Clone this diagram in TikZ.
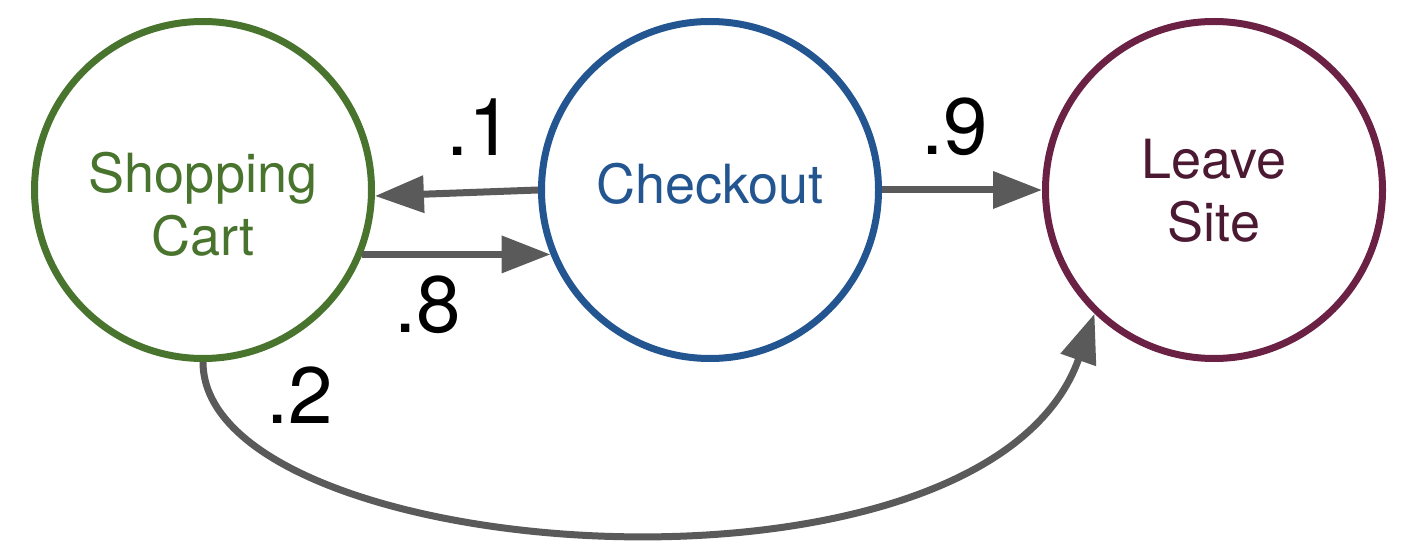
\documentclass[tikz,border=0pt]{standalone}
\usepackage{fontspec}
\setmainfont{TeX Gyre Heros}
\usetikzlibrary{arrows.meta}
\definecolor{cgreen}{HTML}{49742E}
\definecolor{cblue}{HTML}{235691}
\definecolor{cmaroon}{HTML}{6A2144}
\definecolor{cmtext}{HTML}{4B1932}
\definecolor{cgray}{HTML}{5A5A5A}
\begin{document}
\begin{tikzpicture}[x=0.5pt,y=-0.5pt,
  state/.style={circle,draw,line width=3.5pt,minimum size=168.5pt,inner sep=0pt,fill=white},
  stxt/.style={font=\fontsize{27}{31.5}\selectfont,align=center,anchor=north,inner sep=0pt},
  prob/.style={font=\fontsize{40}{48}\selectfont,inner sep=0pt},
  edge/.style={draw=cgray,line width=3.5pt,-{Triangle[length=24.5pt,width=18pt]}}]
\useasboundingbox (0,0) rectangle (1407,555);
\node[state,draw=cgreen] (cart) at (203,190) {};
\node[state,draw=cblue] (co) at (710,190) {};
\node[state,draw=cmaroon] (leave) at (1214,190) {};
\node[stxt,text=cgreen] (carttxt) at (203,152) {Shopping\\Cart};
\node[stxt,text=cblue,anchor=base] (cotxt) at (710,204) {Checkout};
\node[stxt,text=cmtext] (leavetxt) at (1214,139) {Leave\\Site};
\draw[edge] (co.180) -- (cart.-2);
\draw[edge] (cart.-22.5) -- (co.202.5);
\draw[edge] (co.east) -- (leave.west);
\draw[edge] (cart.south) .. controls (203,565) and (985,625) .. (leave.226);
\node[prob] (p1) at (480,127) {.1};
\node[prob] (p8) at (428,305) {.8};
\node[prob] (p9) at (955,127) {.9};
\node[prob] (p2) at (300,395) {.2};
\end{tikzpicture}
\end{document}
